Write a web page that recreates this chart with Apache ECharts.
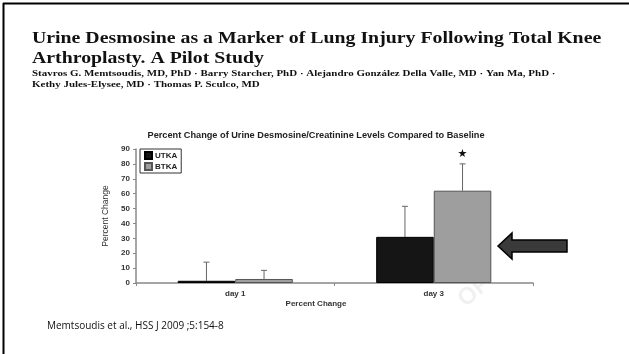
<!DOCTYPE html>
<html><head><meta charset="utf-8">
<script src="https://cdn.jsdelivr.net/npm/echarts@6/dist/echarts.min.js"></script>
<style>html,body{margin:0;padding:0;background:#fff}#c{width:629px;height:354px}</style>
</head><body><div id="c"></div>
<script>
const categories = ['day 1', 'day 3'];
const seriesNames = ['UTKA', 'BTKA'];
const utka = [1.5, 31];
const btka = [2.7, 62];
const utkaUpper = [14, 51.5];
const btkaUpper = [8.5, 80];
const btkaMarks = ['', '★'];
const yTicks = { min: 0, max: 90, interval: 10 };

const GAP = 0.42;
function errRender(sign, uppers, marks) {
  return function (params, api) {
    const i = api.value(0);
    const val = api.value(1);
    const up = api.value(2);
    const band = api.size([1, 0])[0];
    const bw = band * (1 - GAP) / 2;
    const c = api.coord([i, val]);
    const x = c[0] + sign * bw / 2;
    const yTop = api.coord([i, up])[1];
    const children = [
      { type: 'line', shape: { x1: x, y1: c[1], x2: x, y2: yTop }, style: { stroke: '#666', lineWidth: 1 } },
      { type: 'line', shape: { x1: x - 3, y1: yTop, x2: x + 3, y2: yTop }, style: { stroke: '#666', lineWidth: 1 } }
    ];
    const m = marks ? marks[i] : '';
    if (m) {
      children.push({ type: 'text', x: x, y: yTop - 10, style: { text: m, fill: '#111', font: '11px DejaVu Sans', align: 'center', verticalAlign: 'middle' } });
    }
    return { type: 'group', children: children };
  };
}

const chart = echarts.init(document.getElementById('c'));
chart.setOption({
  animation: false,
  backgroundColor: '#fff',
  grid: { left: 136, right: 96, top: 149, bottom: 71 },
  legend: {
    left: 140, top: 149, orient: 'vertical',
    data: seriesNames,
    borderColor: '#333', borderWidth: 1, padding: [2, 4, 2, 4],
    itemWidth: 7, itemHeight: 7, itemGap: 2,
    textStyle: { fontFamily: 'Arial, Liberation Sans', fontWeight: 'bold', fontSize: 8, color: '#222', padding: [0, 0, 0, -2] },
    icon: 'rect'
  },
  xAxis: {
    type: 'category', data: categories,
    axisLine: { lineStyle: { color: '#888', width: 1.5 } },
    axisTick: { show: true, length: 3, lineStyle: { color: '#888' } },
    axisLabel: { fontFamily: 'Arial, Liberation Sans', fontWeight: 'bold', fontSize: 8, color: '#333', margin: 7 }
  },
  yAxis: {
    type: 'value', min: yTicks.min, max: yTicks.max, interval: yTicks.interval,
    splitLine: { show: false },
    axisLine: { show: true, lineStyle: { color: '#888', width: 1.5 } },
    axisTick: { show: true, length: 3, lineStyle: { color: '#888' } },
    axisLabel: { fontFamily: 'Arial, Liberation Sans', fontWeight: 'bold', fontSize: 8, color: '#333', margin: 6 },
    name: 'Percent Change', nameLocation: 'middle', nameGap: 24, nameRotate: 90,
    nameTextStyle: { fontFamily: 'Arial, Liberation Sans', fontSize: 8.5, color: '#333' }
  },
  series: [
    { name: 'UTKA', type: 'bar', data: utka, barGap: 0, barCategoryGap: (GAP * 100) + '%',
      itemStyle: { color: '#151515', borderColor: '#000', borderWidth: 1 } },
    { name: 'BTKA', type: 'bar', data: btka, barGap: 0, barCategoryGap: (GAP * 100) + '%',
      itemStyle: { color: '#9e9e9e', borderColor: '#555', borderWidth: 1 } },
    { type: 'custom', renderItem: errRender(-1, utkaUpper, null), silent: true, z: 1,
      data: categories.map((c, i) => [i, utka[i], utkaUpper[i]]), encode: { x: 0, y: [1, 2] } },
    { type: 'custom', renderItem: errRender(1, btkaUpper, btkaMarks), silent: true, z: 1,
      data: categories.map((c, i) => [i, btka[i], btkaUpper[i]]), encode: { x: 0, y: [1, 2] } }
  ],
  graphic: [
    { type: 'line', shape: { x1: 3, y1: 3.5, x2: 629, y2: 3.5 }, style: { stroke: '#000', lineWidth: 2 } },
    { type: 'line', shape: { x1: 3.5, y1: 3, x2: 3.5, y2: 354 }, style: { stroke: '#000', lineWidth: 2 } },
    { type: 'text', x: 32, y: 29, scaleX: 1.165, style: { text: 'Urine Desmosine as a Marker of Lung Injury Following Total Knee\nArthroplasty. A Pilot Study', font: 'bold 17px "Liberation Serif", serif', fill: '#111', lineHeight: 20 } },
    { type: 'text', x: 32, y: 68, scaleX: 1.22, style: { text: 'Stavros G. Memtsoudis, MD, PhD · Barry Starcher, PhD · Alejandro González Della Valle, MD · Yan Ma, PhD ·\nKethy Jules-Elysee, MD · Thomas P. Sculco, MD', font: 'bold 9px "Liberation Serif", serif', fill: '#111', lineHeight: 11 } },
    { type: 'text', x: 316, y: 135, style: { text: 'Percent Change of Urine Desmosine/Creatinine Levels Compared to Baseline', font: 'bold 9.2px Arial, "Liberation Sans"', fill: '#222', align: 'center', verticalAlign: 'middle' } },
    { type: 'text', x: 316, y: 304, style: { text: 'Percent Change', font: 'bold 8px Arial, "Liberation Sans"', fill: '#333', align: 'center', verticalAlign: 'middle' } },
    { type: 'text', x: 47, y: 326, style: { text: 'Memtsoudis et al., HSS J 2009 ;5:154-8', font: '10px "Open Sans", sans-serif', fill: '#111', verticalAlign: 'middle' } },
    { type: 'text', x: 474, y: 292, rotation: 0.7, style: { text: 'OF', font: 'bold 24px "Liberation Sans"', fill: 'rgba(0,0,0,0.06)', align: 'center', verticalAlign: 'middle' }, z: -1 },
    { type: 'polygon', shape: { points: [[498, 246], [512, 233], [512, 240], [567, 240], [567, 252], [512, 252], [512, 259]] }, style: { fill: '#3a3a3a', stroke: '#000', lineWidth: 1.5 } }
  ]
});
</script></body></html>
